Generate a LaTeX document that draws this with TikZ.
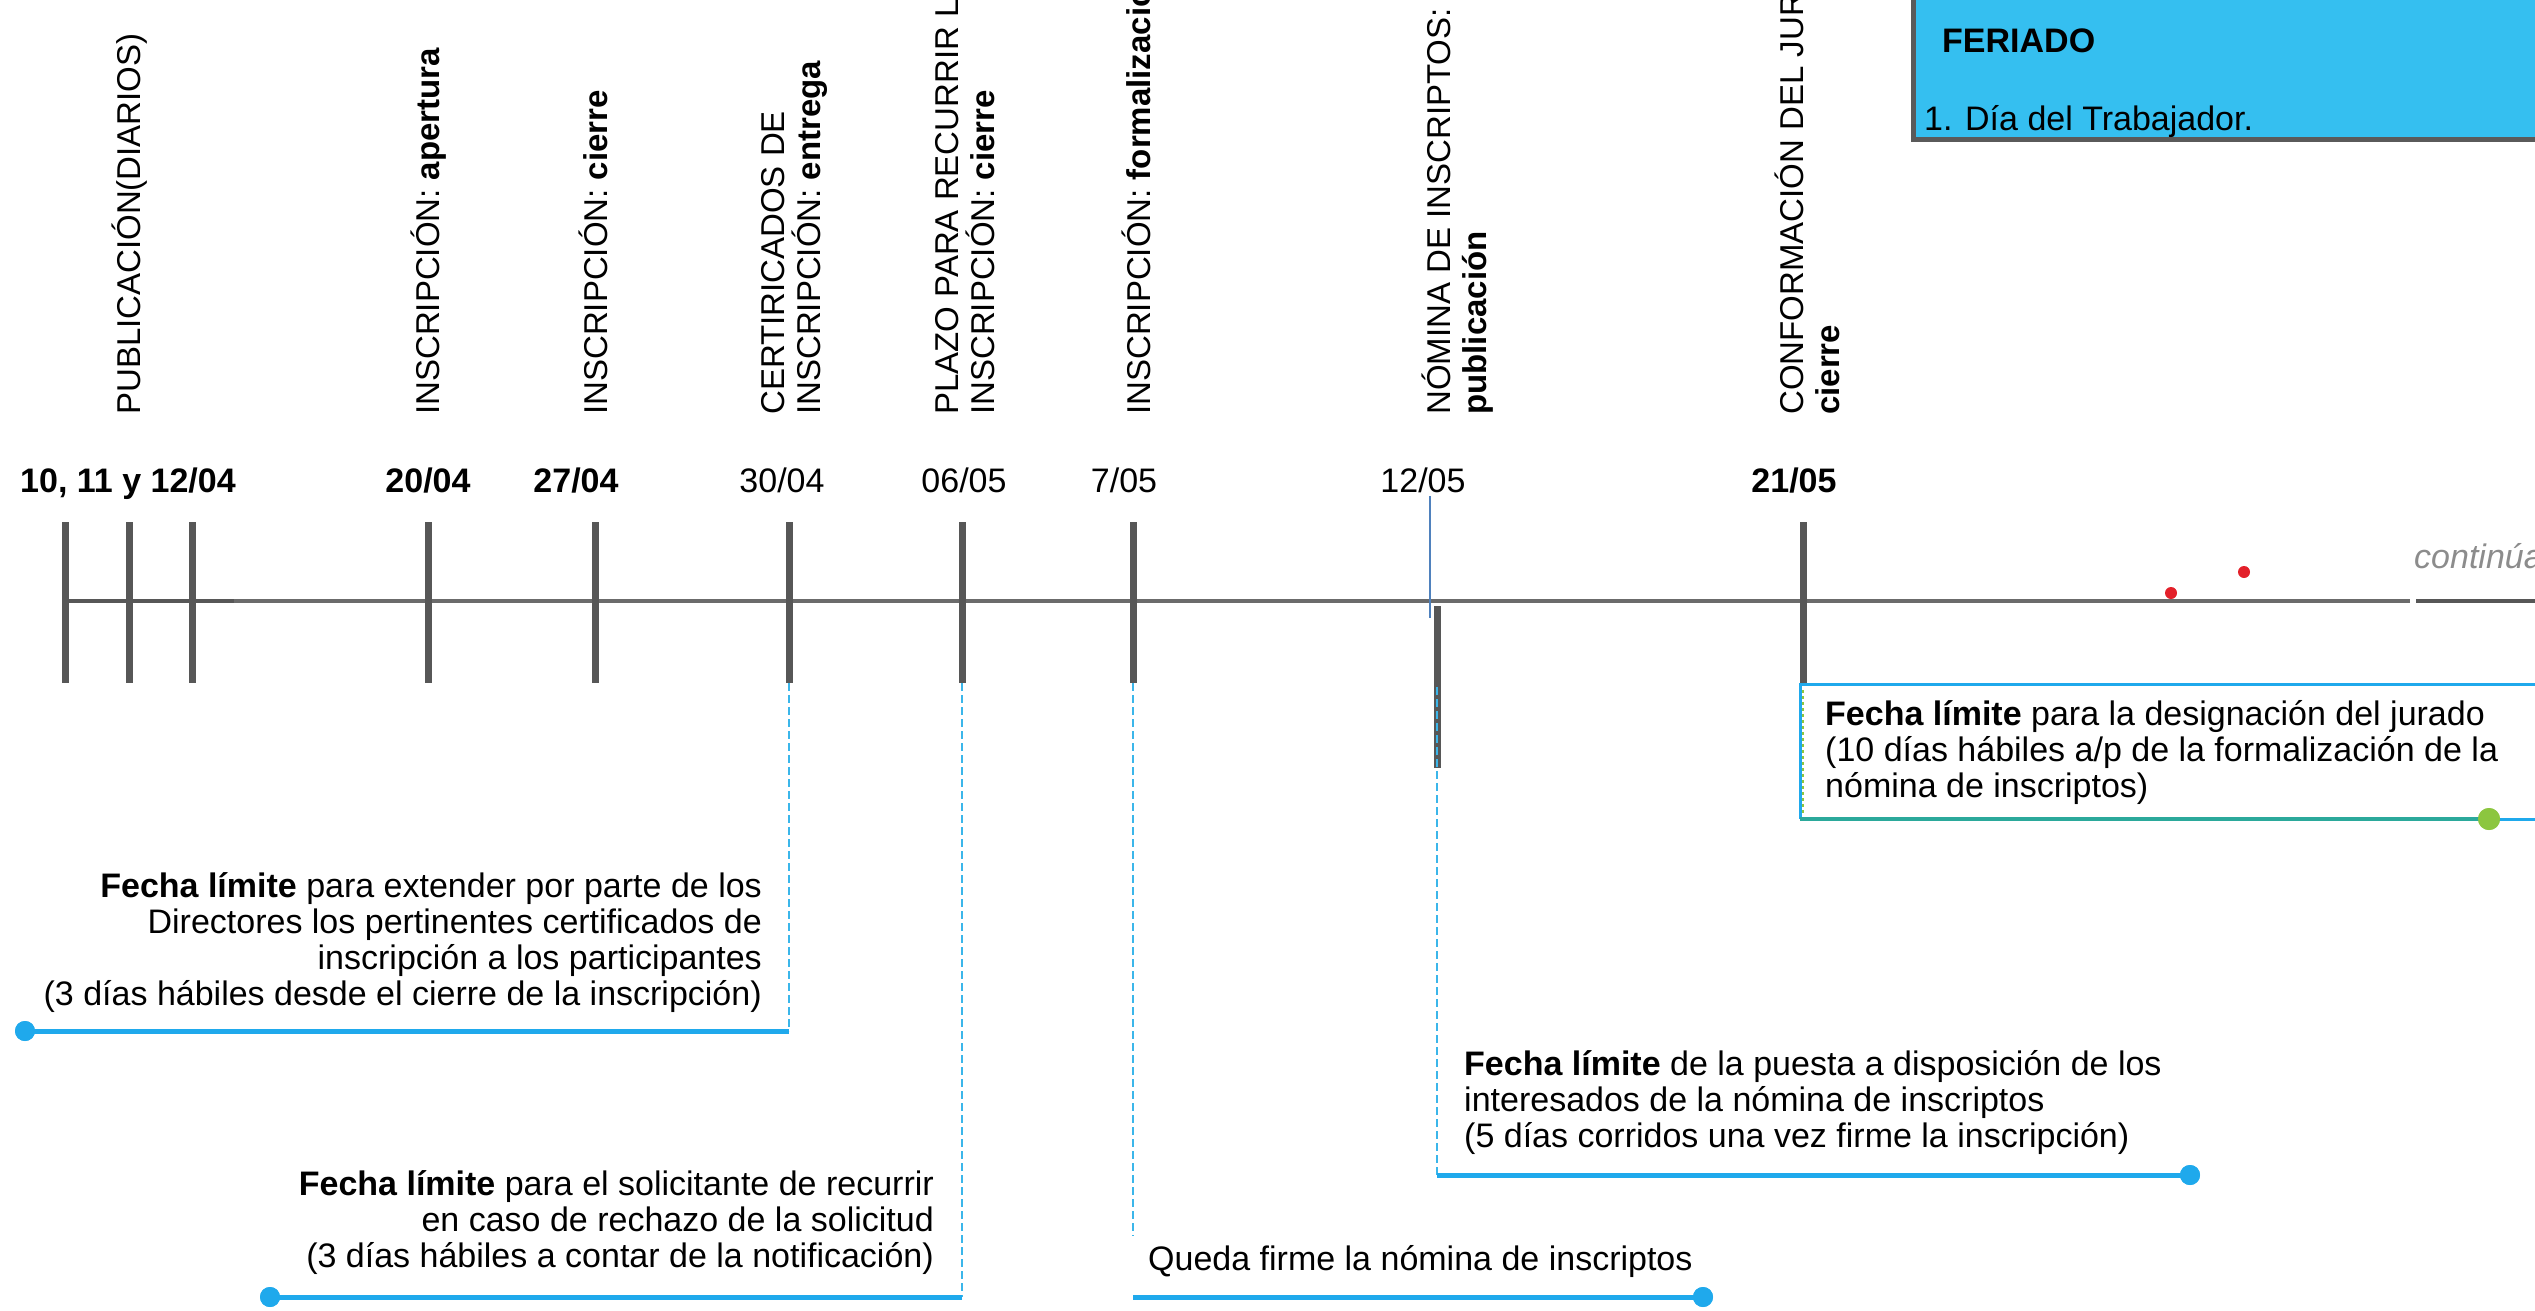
\documentclass[tikz,border=0pt]{standalone}
\usepackage{fontspec}
\setmainfont{Liberation Sans}
\definecolor{tickgray}{HTML}{575757}
\definecolor{axisgray}{HTML}{6B6B6B}
\definecolor{barblue}{HTML}{1FA9EC}
\definecolor{leadblue}{HTML}{3BB6EA}
\definecolor{ferfill}{HTML}{35BFF0}
\definecolor{ferborder}{HTML}{5A5A5A}
\definecolor{tealln}{HTML}{2BA99B}
\definecolor{greendot}{HTML}{8CC63F}
\definecolor{reddot}{HTML}{E3202A}
\definecolor{contgray}{HTML}{8C8C8C}
\definecolor{steel}{HTML}{4F81BD}
\begin{document}
\begin{tikzpicture}[x=1pt,y=-1pt,
  tickln/.style={draw=tickgray, line width=7pt},
  axisln/.style={draw=axisgray, line width=4pt},
  lead/.style={draw=leadblue, line width=2pt, dash pattern=on 8pt off 4pt},
  bar/.style={draw=barblue, line width=5pt},
  bluedot/.style={circle, fill=barblue, inner sep=0pt, minimum size=20pt},
  datelbl/.style={font=\fontsize{34}{36}\selectfont, anchor=base, inner sep=0pt},
  vlbl/.style={rotate=90, align=left, font=\fontsize{33}{36}\selectfont, inner sep=0pt},
  note/.style={font=\fontsize{34}{36}\selectfont, inner sep=0pt},
]
\useasboundingbox (0,0) rectangle (2535,1310);
\clip (0,0) rectangle (2535,1310);

% ---------- FERIADO box ----------
\coordinate (ferTL) at (1913,-20);
\coordinate (ferBR) at (2560,139);
\draw[fill=ferfill, draw=ferborder, line width=5pt] (ferTL) rectangle (ferBR);
\node[font=\fontsize{34}{36}\selectfont\bfseries, anchor=base west, inner sep=0pt] (fer) at (1942,52) {FERIADO};
\node[note, anchor=base west] (ferit) at (1924,130) {1. Día del Trabajador.};

% ---------- axis ----------
\coordinate (ax0) at (65,601);
\coordinate (axs) at (234,601);
\coordinate (ax1) at (2410,601);
\coordinate (ax2) at (2416,601);
\coordinate (ax3) at (2535,601);
\draw[axisln] (ax0) -- (ax1);
\draw[axisln, draw=tickgray] (ax0) -- (axs);
\draw[axisln, draw=tickgray] (ax2) -- (ax3);

% ---------- ticks ----------
\foreach \n/\x in {ta/65,tb/129,tc/192,td/428,te/595,tf/789,tg/962,th/1133,tj/1803} {
  \coordinate (\n top) at (\x,522);
  \coordinate (\n bot) at (\x,683);
  \draw[tickln] (\n top) -- (\n bot);
}
% 12/05 special
\coordinate (tiA) at (1430,496);
\coordinate (tiB) at (1430,618);
\draw[draw=steel, line width=1.6pt] (tiA) -- (tiB);
\coordinate (titop) at (1437,606);
\coordinate (timid) at (1437,687);
\coordinate (tibot) at (1437,768);
\draw[tickln] (titop) -- (tibot);

% red dots
\fill[reddot] (2171,593) circle (6pt);
\fill[reddot] (2244,572) circle (6pt);
\node[font=\fontsize{34}{36}\selectfont\itshape, text=contgray, anchor=base west, inner sep=0pt] (cont) at (2414,568) {continúa};

% ---------- dates ----------
\node[datelbl, font=\fontsize{34}{36}\selectfont\bfseries] (d1) at (128,492) {10, 11 y 12/04};
\node[datelbl, font=\fontsize{34}{36}\selectfont\bfseries] (d2) at (428,492) {20/04};
\node[datelbl, font=\fontsize{34}{36}\selectfont\bfseries] (d3) at (576,492) {27/04};
\node[datelbl] (d4) at (782,492) {30/04};
\node[datelbl] (d5) at (964,492) {06/05};
\node[datelbl] (d6) at (1124,492) {7/05};
\node[datelbl] (d7) at (1423,492) {12/05};
\node[datelbl, font=\fontsize{34}{36}\selectfont\bfseries] (d8) at (1794,492) {21/05};

% ---------- rotated labels ----------
\node[vlbl, anchor=base west] (v1) at (140,415) {PUBLICACIÓN(DIARIOS)};
\node[vlbl, anchor=base west] (v2) at (439,415) {INSCRIPCIÓN: \textbf{apertura}};
\node[vlbl, anchor=base west] (v3) at (607,415) {INSCRIPCIÓN: \textbf{cierre}};
\node[vlbl, anchor=west] (v4) at (794,415) {CERTIRICADOS DE\\INSCRIPCIÓN: \textbf{entrega}};
\node[vlbl, anchor=west] (v5) at (965,415) {PLAZO PARA RECURRIR LA\\INSCRIPCIÓN: \textbf{cierre}};
\node[vlbl, anchor=base west] (v6) at (1150,415) {INSCRIPCIÓN: \textbf{formalización}};
\node[vlbl, anchor=west] (v7) at (1458,415) {NÓMINA DE INSCRIPTOS:\\\textbf{publicación}};
\node[vlbl, anchor=west] (v8) at (1807,415) {CONFORMACIÓN DEL JURADO\\\textbf{cierre}};

% ---------- callout 30/04 ----------
\coordinate (c1k) at (789,1031);
\node[bluedot] (c1d) at (25,1031) {};
\draw[lead] (tfbot) -- (c1k);
\draw[bar] (c1k) -- (c1d.center);
\node[bluedot] at (c1d) {};
\node[note, anchor=north east, align=right] (c1t) at (762,872)
  {\strut\textbf{Fecha límite} para extender por parte de los\\Directores los pertinentes certificados de\\inscripción a los participantes\\(3 días hábiles desde el cierre de la inscripción)};

% ---------- callout 06/05 ----------
\coordinate (c2k) at (962,1297);
\node[bluedot] (c2d) at (270,1297) {};
\draw[lead] (tgbot) -- (c2k);
\draw[bar] (c2k) -- (c2d.center);
\node[bluedot] at (c2d) {};
\node[note, anchor=north east, align=right] (c2t) at (934,1170)
  {\strut\textbf{Fecha límite} para el solicitante de recurrir\\en caso de rechazo de la solicitud\\(3 días hábiles a contar de la notificación)};

% ---------- callout 7/05 ----------
\coordinate (c3e) at (1133,1236);
\coordinate (c3k) at (1133,1297);
\node[bluedot] (c3d) at (1703,1297) {};
\draw[lead] (thbot) -- (c3e);
\draw[bar] (c3k) -- (c3d.center);
\node[bluedot] at (c3d) {};
\node[note, anchor=base west] (c3t) at (1148,1270) {Queda firme la nómina de inscriptos};

% ---------- callout 12/05 ----------
\coordinate (c4k) at (1437,1175);
\node[bluedot] (c4d) at (2190,1175) {};
\draw[lead] (timid) -- (c4k);
\draw[bar] (c4k) -- (c4d.center);
\node[bluedot] at (c4d) {};
\node[note, anchor=north west, align=left] (c4t) at (1464,1050)
  {\strut\textbf{Fecha límite} de la puesta a disposición de los\\interesados de la nómina de inscriptos\\(5 días corridos una vez firme la inscripción)};

% ---------- box 21/05 ----------
\coordinate (bxTL) at (1800,684);
\coordinate (bxBL) at (1800,819);
\coordinate (bxTR) at (2545,684);
\coordinate (bxBR) at (2545,819);
\node[circle, fill=greendot, inner sep=0pt, minimum size=22pt] (gd) at (2489,819) {};
\draw[draw=barblue, line width=3pt] (bxTR) -- (bxTL) -- (bxBL);
\draw[draw=greendot, line width=1.2pt, dash pattern=on 3pt off 3pt] (1803,690) -- (1803,815);
\draw[draw=tealln, line width=3.5pt] (bxBL) -- (gd.center);
\draw[draw=barblue, line width=3pt] (gd.center) -- (bxBR);
\node[circle, fill=greendot, inner sep=0pt, minimum size=22pt] at (gd) {};
\node[note, anchor=north west, align=left] (c5t) at (1825,700)
  {\strut\textbf{Fecha límite} para la designación del jurado\\(10 días hábiles a/p de la formalización de la\\nómina de inscriptos)};
\end{tikzpicture}
\end{document}
